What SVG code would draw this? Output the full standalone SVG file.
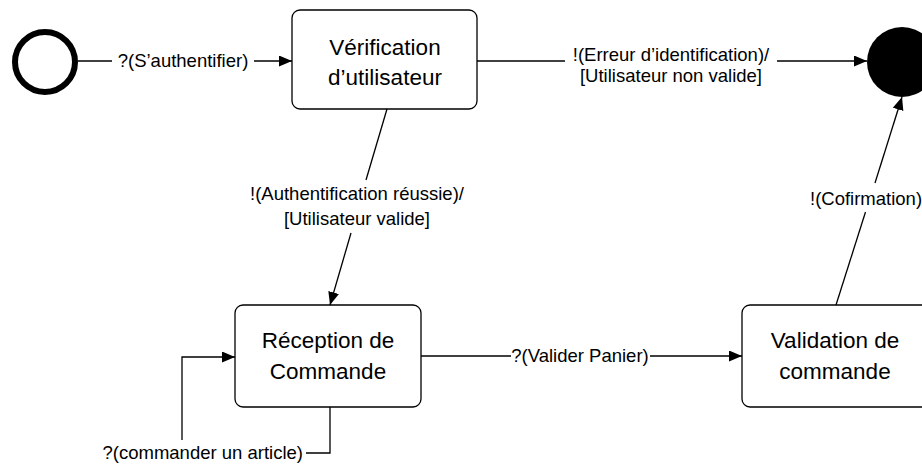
<svg xmlns="http://www.w3.org/2000/svg" width="922" height="467" viewBox="0 0 922 467">
<style>
.box{fill:#fff;stroke:#000;stroke-width:1.3}
.node{font-family:"Liberation Sans",Arial,sans-serif;font-size:22.5px;fill:#000;text-anchor:middle}
.lbl{font-family:"Liberation Sans",Arial,sans-serif;font-size:18.5px;fill:#000;text-anchor:middle}
.edge{fill:none;stroke:#000;stroke-width:1.3}
</style>
<defs>
<marker id="arr" markerUnits="userSpaceOnUse" markerWidth="13" markerHeight="11" refX="13" refY="5.5" orient="auto">
<path d="M0,0 L13,5.5 L0,11 z" fill="#000"/>
</marker>
</defs>
<g id="start"><circle cx="45" cy="62" r="30" fill="#fff" stroke="#000" stroke-width="6"/></g>
<g id="end"><circle cx="902" cy="62" r="35" fill="#000"/></g>
<g id="verification">
<rect class="box" x="292" y="10" width="185" height="99" rx="8"/>
<text class="node" x="385" y="55">Vérification</text>
<text class="node" x="385" y="85">d’utilisateur</text>
</g>
<g id="reception">
<rect class="box" x="235" y="305" width="186" height="102" rx="8"/>
<text class="node" x="328" y="348">Réception de</text>
<text class="node" x="328" y="379">Commande</text>
</g>
<g id="validation">
<rect class="box" x="742" y="305" width="200" height="102" rx="8"/>
<text class="node" x="835" y="348">Validation de</text>
<text class="node" x="835" y="379">commande</text>
</g>
<g id="connectors">
<path class="edge" d="M78,61 H112"/>
<path class="edge" d="M254,61 H292" marker-end="url(#arr)"/>
<text class="lbl" x="183" y="67">?(S’authentifier)</text>

<path class="edge" d="M477,61 H565"/>
<path class="edge" d="M777,61 H867" marker-end="url(#arr)"/>
<text class="lbl" x="671" y="61">!(Erreur d’identification)/</text>
<text class="lbl" x="671" y="82">[Utilisateur non valide]</text>

<path class="edge" d="M387,109 L366,180"/>
<path class="edge" d="M351,233 L330,305" marker-end="url(#arr)"/>
<text class="lbl" x="357" y="200">!(Authentification réussie)/</text>
<text class="lbl" x="357" y="225">[Utilisateur valide]</text>

<path class="edge" d="M330,407 V453 H306"/>
<path class="edge" d="M182,440 V357 H235" marker-end="url(#arr)"/>
<text class="lbl" x="303" y="459" style="text-anchor:end">?(commander un article)</text>

<path class="edge" d="M421,356 H511"/>
<path class="edge" d="M650,356 H742" marker-end="url(#arr)"/>
<text class="lbl" x="580" y="362">?(Valider Panier)</text>

<path class="edge" d="M836,305 L865.5,212"/>
<path class="edge" d="M875,183 L902,97" marker-end="url(#arr)"/>
<text class="lbl" x="810" y="205" style="text-anchor:start">!(Cofirmation)</text>
</g>
</svg>
